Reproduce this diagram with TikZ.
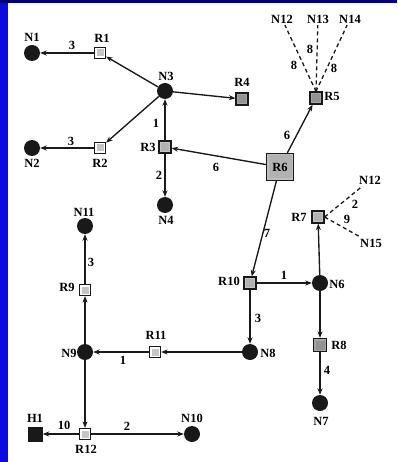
\documentclass[tikz,border=0pt]{standalone}
\usepackage{fontspec}
\setmainfont{Liberation Serif}
\usetikzlibrary{arrows.meta}
\definecolor{bluel}{RGB}{10,10,225}
\definecolor{bluet}{RGB}{0,0,120}
\definecolor{ink}{RGB}{25,25,25}
\begin{document}
\begin{tikzpicture}[x=1pt,y=-1pt,
  every node/.style={font=\bfseries\fontsize{12.5}{12.5}\selectfont, inner sep=0pt, text=black},
  nd/.style={circle, fill=ink, minimum size=16pt},
  rbox/.style 2 args={rectangle, draw=ink, line width=1.2pt, minimum size=11pt, fill=#1,
    path picture={\fill[#2] ([shift={(2pt,-2pt)}]path picture bounding box.north west) rectangle ([shift={(-2pt,2pt)}]path picture bounding box.south east);}},
  lbox/.style={rbox={white}{gray!45}},
  dbox/.style={rbox={gray!70}{gray!85}},
  mbox/.style={rbox={gray!45}{gray!60}},
  hbox/.style={rectangle, fill=ink, minimum size=15pt},
  txt/.style={outer sep=2pt},
  arr/.style={draw=ink, line width=1.35pt, -{Stealth[length=6.5pt,width=5pt]}},
  dsh/.style={draw=ink, line width=1.3pt, dash pattern=on 4pt off 3pt}
]
\fill[white] (0,0) rectangle (397,462);
\fill[bluel] (0,0) rectangle (8,462);
\fill[bluet] (0,0) rectangle (397,3);

% nodes
\node[nd] (N1) at (32,53) {};
\node[lbox] (R1) at (100,53) {};
\node[nd] (N3) at (165,91) {};
\node[lbox] (R2) at (100,148) {};
\node[nd] (N2) at (32,148) {};
\node[mbox, minimum size=12pt] (R3) at (165,147) {};
\node[nd] (N4) at (165,205) {};
\node[dbox, minimum size=12pt] (R4) at (242,99) {};
\node[dbox, minimum size=12pt] (R5) at (316,98) {};
\node[rbox={gray!50}{gray!60}, minimum size=27pt] (R6) at (280,167) {R6};
\node[mbox, minimum size=12pt] (R7) at (318,217) {};
\node[mbox, minimum size=12pt] (R10) at (250,283) {};
\node[nd] (N6) at (320,283) {};
\node[dbox, minimum size=13pt] (R8) at (320,345) {};
\node[nd] (N7) at (320,403) {};
\node[nd] (N8) at (250,352) {};
\node[lbox] (R11) at (155,352) {};
\node[nd] (N9) at (85,352) {};
\node[lbox] (R9) at (85,290) {};
\node[nd] (N11) at (85,226) {};
\node[lbox] (R12) at (85,434) {};
\node[hbox] (H1) at (35,434) {};
\node[nd] (N10) at (192,434) {};

% text-only end nodes
\node[txt] (N12) at (282,19) {N12};
\node[txt] (N13) at (318,19) {N13};
\node[txt] (N14) at (350,19) {N14};
\node[txt] (N12b) at (370,180) {N12};
\node[txt] (N15) at (371,243) {N15};

% node labels
\node (tN1) at (32,37) {N1};
\node (tR1) at (102,38) {R1};
\node (tN3) at (166,76) {N3};
\node (tN2) at (32,163) {N2};
\node (tR2) at (100,163) {R2};
\node (tR3) at (148,147) {R3};
\node (tN4) at (166,220) {N4};
\node (tR4) at (242,82) {R4};
\node (tR5) at (332,96) {R5};
\node (tR7) at (299,217) {R7};
\node (tR10) at (229,281) {R10};
\node (tN6) at (337,284) {N6};
\node (tR8) at (339,345) {R8};
\node (tN7) at (321,421) {N7};
\node (tN8) at (268,353) {N8};
\node (tR11) at (156,335) {R11};
\node (tN9) at (69,353) {N9};
\node (tR9) at (67,287) {R9};
\node (tN11) at (84,212) {N11};
\node (tR12) at (86,449) {R12};
\node (tH1) at (35,418) {H1};
\node (tN10) at (192,418) {N10};

% connectors
\draw[arr] (N3) -- (R1);
\draw[arr] (R1) -- (N1);
\draw[arr] (N3) -- (R2);
\draw[arr] (R2) -- (N2);
\draw[arr] (R3) -- (N3);
\draw[arr] (R3) -- (N4);
\draw[arr] (N3) -- (R4);
\draw[arr] (R6) -- (R3);
\draw[arr] (R6) -- (R5);
\draw[arr] (R6) -- (R10);
\draw[arr] (R10) -- (N6);
\draw[arr] (R10) -- (N8);
\draw[arr] (N6) -- (R7);
\draw[arr] (N6) -- (R8);
\draw[arr] (R8) -- (N7);
\draw[arr] (N8) -- (R11);
\draw[arr] (R11) -- (N9);
\draw[arr] (N9) -- (R9);
\draw[arr] (R9) -- (N11);
\draw[arr] (N9) -- (R12);
\draw[arr] (R12) -- (H1);
\draw[arr] (R12) -- (N10);
\draw[dsh] (R5.north) -- (N12);
\draw[dsh] (R5.north) -- (N13);
\draw[dsh] (R5.north) -- (N14);
\draw[dsh] (R7.east) -- (N12b);
\draw[dsh] (R7.east) -- (N15);

% edge labels
\node (e1) at (72,45) {3};
\node (e2) at (71,141) {3};
\node (e3) at (156,123) {1};
\node (e4) at (159,175) {2};
\node (e5) at (216,167) {6};
\node (e6) at (287,135) {6};
\node (e7) at (294,65) {8};
\node (e8) at (310,49) {8};
\node (e9) at (334,68) {8};
\node (e10) at (267,233) {7};
\node (e11) at (355,204) {2};
\node (e12) at (347,219) {9};
\node (e13) at (284,275) {1};
\node (e14) at (258,318) {3};
\node (e15) at (327,370) {4};
\node (e16) at (123,360) {1};
\node (e17) at (91,262) {3};
\node (e18) at (64,425) {10};
\node (e19) at (127,426) {2};
\end{tikzpicture}
\end{document}
